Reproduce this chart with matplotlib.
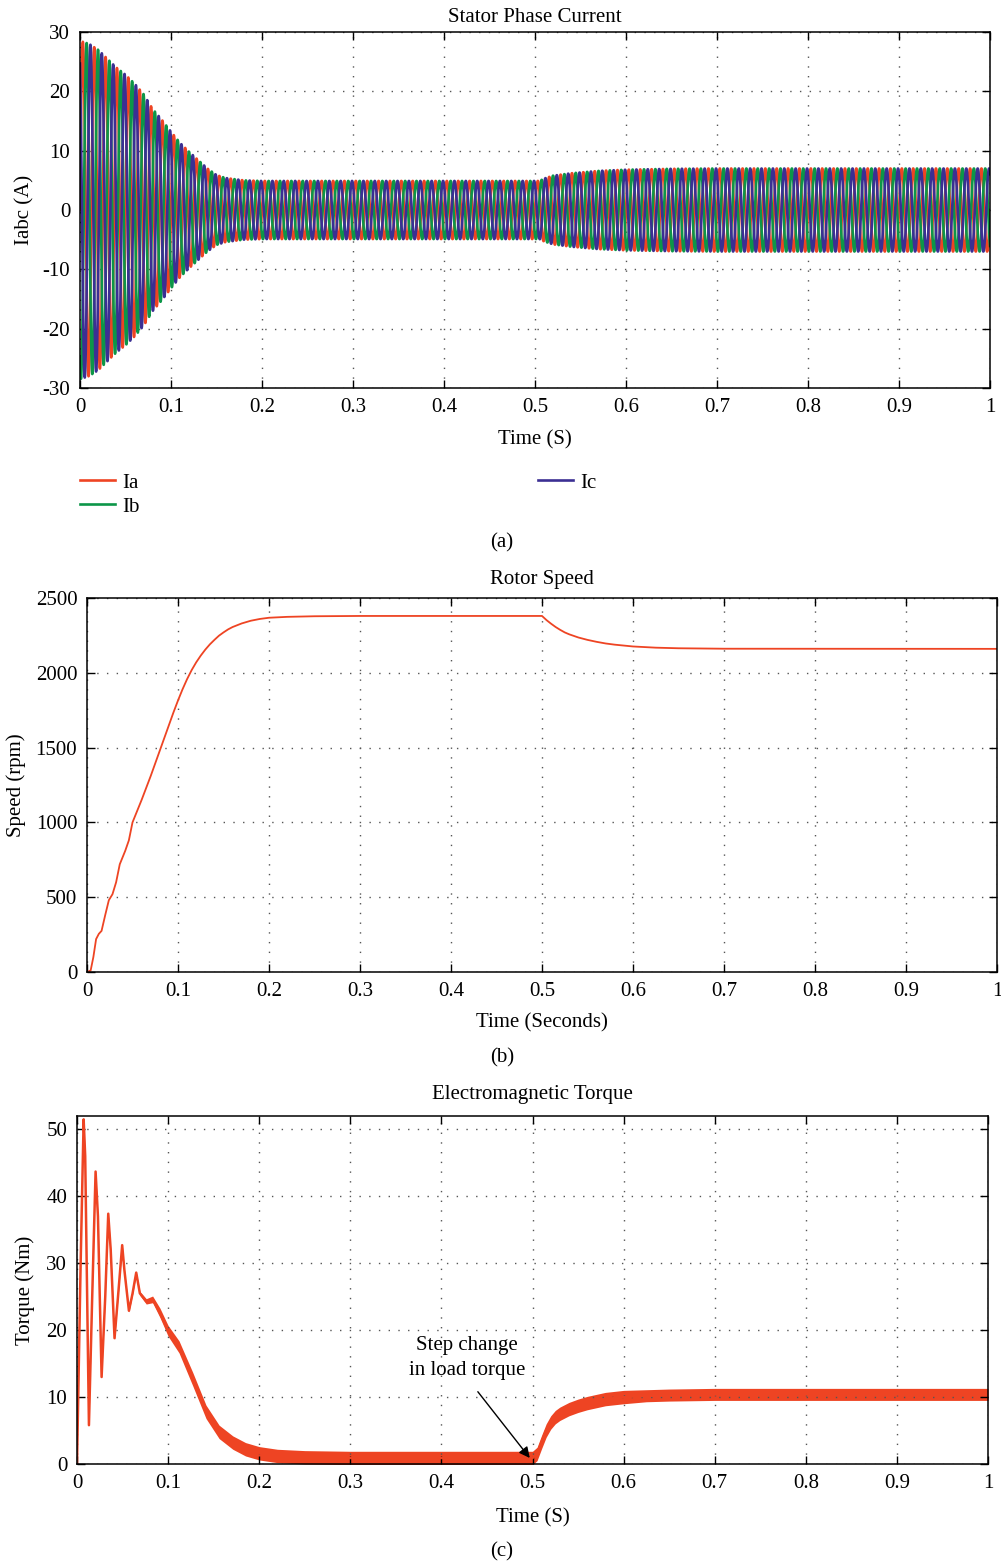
import numpy as np
import matplotlib
matplotlib.use("Agg")
import matplotlib.pyplot as plt

plt.rcParams["font.family"] = ["Liberation Serif", "DejaVu Serif"]
plt.rcParams["axes.unicode_minus"] = False

RED = "#ee4423"
GREEN = "#0c9648"
BLUE = "#3b2f93"
FS = 15

# stator current: supply frequency and amplitude envelope (A)
f_supply = 80.0
env_t = [0, 0.01, 0.02, 0.03, 0.04, 0.05, 0.06, 0.07, 0.08, 0.09, 0.10, 0.11,
         0.12, 0.13, 0.14, 0.15, 0.16, 0.18, 0.20, 0.505, 0.51, 0.52, 0.54,
         0.57, 0.60, 0.65, 0.70, 1.0]
env_amp = [28.5, 28, 27, 25.5, 24, 22.8, 21.3, 19.5, 17, 15.2, 13.2, 11.3,
           9.8, 8.4, 7.0, 5.9, 5.4, 5.0, 4.9, 4.9, 5.3, 5.8, 6.2, 6.6, 6.8,
           6.95, 7.0, 7.0]

# rotor speed (rpm)
spd_t = [0, 0.004, 0.007, 0.010, 0.013, 0.016, 0.020, 0.024, 0.028, 0.032,
         0.036, 0.042, 0.046, 0.050, 0.060, 0.070, 0.080, 0.085, 0.090, 0.095,
         0.100, 0.105, 0.110, 0.115, 0.120, 0.125, 0.130, 0.135, 0.140, 0.145,
         0.150, 0.155, 0.160, 0.170, 0.180, 0.190, 0.200, 0.220, 0.250, 0.300,
         0.500, 0.505, 0.510, 0.515, 0.520, 0.525, 0.530, 0.540, 0.550, 0.560,
         0.570, 0.580, 0.600, 0.625, 0.650, 0.700, 1.0]
spd_rpm = [0, 10, 100, 220, 255, 275, 380, 480, 520, 600, 720, 810, 880, 1000,
           1150, 1310, 1480, 1565, 1650, 1735, 1815, 1890, 1958, 2018, 2070,
           2115, 2155, 2190, 2220, 2248, 2270, 2290, 2306, 2330, 2348, 2360,
           2368, 2374, 2378, 2380, 2380, 2352, 2328, 2306, 2287, 2270, 2257,
           2236, 2220, 2207, 2196, 2188, 2176, 2168, 2164, 2161, 2160]

# electromagnetic torque (Nm): mean curve and ripple half-band
tq_t = [0, 0.004, 0.0073, 0.009, 0.0131, 0.0165, 0.0204, 0.023, 0.027, 0.031,
        0.0343, 0.037, 0.0412, 0.045, 0.0496, 0.052, 0.057, 0.061, 0.065,
        0.069, 0.076, 0.083, 0.091, 0.100, 0.112, 0.127, 0.1416, 0.156, 0.171,
        0.185, 0.200, 0.220, 0.250, 0.300, 0.500, 0.505, 0.510, 0.515, 0.520,
        0.525, 0.530, 0.540, 0.550, 0.560, 0.570, 0.580, 0.600, 0.625, 0.650,
        0.700, 1.0]
tq_nm = [0, 30, 51.5, 46, 5.8, 24, 43.7, 37, 13, 25, 37.4, 32, 18.8, 25, 32.7,
         29, 22.9, 25.5, 28.6, 25.5, 24.3, 24.6, 22.6, 19.9, 17.5, 12.7, 7.8,
         4.8, 3.2, 2.2, 1.6, 1.2, 1.0, 0.9, 0.9, 1.5, 3.3, 5.0, 6.2, 7.0, 7.5,
         8.2, 8.7, 9.1, 9.4, 9.7, 10.0, 10.2, 10.3, 10.4, 10.4]
tq_ripple = [0.2, 0.2, 0.2, 0.2, 0.2, 0.2, 0.2, 0.2, 0.2, 0.2,
             0.2, 0.2, 0.2, 0.2, 0.2, 0.2, 0.2, 0.2, 0.2,
             0.3, 0.4, 0.5, 0.7, 0.8, 0.9, 1.0, 1.0, 1.0, 1.0, 1.0, 1.0,
             1.0, 1.0, 1.0, 1.0,
             1.0, 1.0, 1.0, 1.0, 1.0, 1.0, 1.0, 1.0, 1.0, 1.0, 1.0, 1.0,
             0.9, 0.9, 0.9, 0.9]

time_ticks = [0, 0.1, 0.2, 0.3, 0.4, 0.5, 0.6, 0.7, 0.8, 0.9, 1]
time_labels = ["0", "0.1", "0.2", "0.3", "0.4", "0.5", "0.6", "0.7", "0.8",
               "0.9", "1"]

W, H = 1001, 1567
fig = plt.figure(figsize=(W / 100, H / 100), dpi=100)


def px_axes(left, top, right, bottom):
    return fig.add_axes([left / W, 1 - bottom / H, (right - left) / W,
                         (bottom - top) / H])


def style(ax):
    ax.set_xlim(0, 1)
    ax.set_xticks(time_ticks)
    ax.set_xticklabels(time_labels)
    ax.grid(True, color="#555555", linestyle=(0, (1, 6)), linewidth=1.0)
    ax.tick_params(direction="in", top=True, right=True, length=6,
                   width=1.0, labelsize=FS, pad=7)
    for s in ax.spines.values():
        s.set_linewidth(1.1)


# (a) stator phase current
ax1 = px_axes(80, 32, 990, 388)
t = np.linspace(0, 1, 40001)
amp = np.interp(t, env_t, env_amp)
w = 2 * np.pi * f_supply * t
ia = amp * np.sin(w)
ib = amp * np.sin(w - 2 * np.pi / 3)
ic = amp * np.sin(w + 2 * np.pi / 3)
la, = ax1.plot(t, ia, color=RED, lw=1.9, label="Ia")
lb, = ax1.plot(t, ib, color=GREEN, lw=1.9, label="Ib")
lc, = ax1.plot(t, ic, color=BLUE, lw=1.9, label="Ic")
ax1.set_ylim(-30, 30)
ax1.set_yticks(np.arange(-30, 31, 10))
style(ax1)
ax1.set_title("Stator Phase Current", fontsize=FS, pad=7)
ax1.set_xlabel("Time (S)", fontsize=FS, labelpad=10)
ax1.set_ylabel("Iabc (A)", fontsize=FS, labelpad=6)
fig.legend(handles=[la, lb, lc], loc="upper left", ncol=2, frameon=False,
           bbox_to_anchor=(80 / W, 1 - 473 / H), fontsize=FS,
           borderpad=0, borderaxespad=0,
           handlelength=1.7, handletextpad=0.35, columnspacing=19.1,
           labelspacing=0.22)
fig.text(502 / W, 1 - 543 / H, "(a)", ha="center", va="center", fontsize=FS)

# (b) rotor speed
ax2 = px_axes(87, 598, 997, 972)
ax2.plot(spd_t, spd_rpm, color=RED, lw=1.3)
ax2.set_ylim(0, 2500)
ax2.set_yticks(np.arange(0, 2501, 500))
style(ax2)
ax2.set_title("Rotor Speed", fontsize=FS, pad=10)
ax2.set_xlabel("Time (Seconds)", fontsize=FS, labelpad=9)
ax2.set_ylabel("Speed (rpm)", fontsize=FS, labelpad=7)
fig.text(502 / W, 1 - 1058 / H, "(b)", ha="center", va="center", fontsize=FS)

# (c) electromagnetic torque
ax3 = px_axes(77, 1116, 988, 1464)
tq = np.array(tq_nm)
rp = np.array(tq_ripple)
ax3.fill_between(tq_t, tq - rp, tq + rp, color=RED, lw=0)
ax3.plot(tq_t, tq, color=RED, lw=1.8)
ax3.set_ylim(0, 52)
ax3.set_yticks(np.arange(0, 51, 10))
style(ax3)
ax3.set_title("Electromagnetic Torque", fontsize=FS, pad=12)
ax3.set_xlabel("Time (S)", fontsize=FS, labelpad=11)
ax3.set_ylabel("Torque (Nm)", fontsize=FS, labelpad=8)
ax3.text(0.428, 15.8, "Step change\nin load torque", ha="center",
         va="center", fontsize=FS, linespacing=1.4)
ax3.annotate("", xy=(0.497, 0.9), xytext=(0.440, 10.8),
             arrowprops=dict(arrowstyle="-|>", color="black", lw=1.0,
                             shrinkA=0, shrinkB=0, mutation_scale=16))
fig.text(502 / W, 1 - 1552 / H, "(c)", ha="center", va="center", fontsize=FS)

fig.savefig("out.png", dpi=100)
